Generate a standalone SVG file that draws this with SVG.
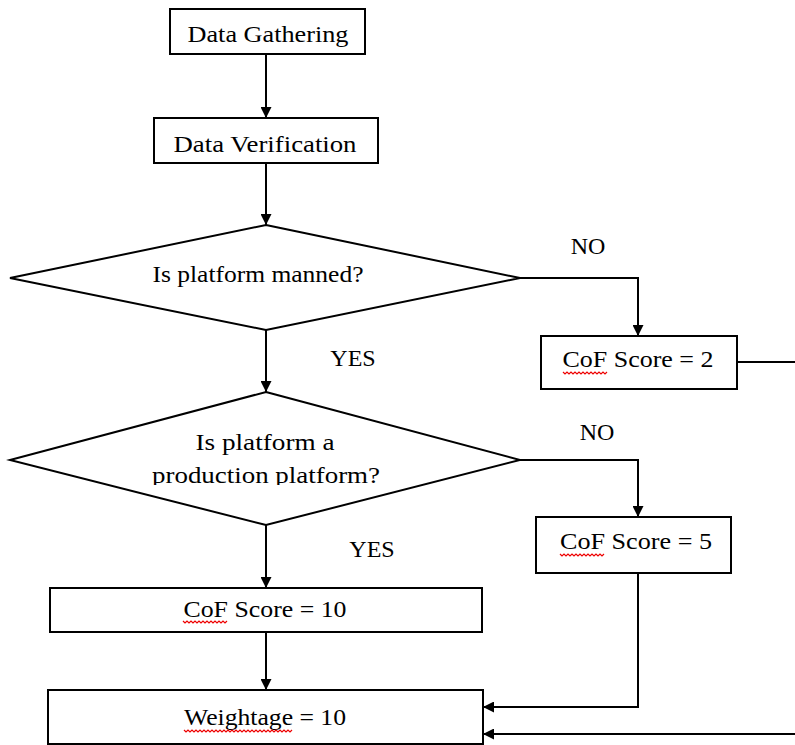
<svg xmlns="http://www.w3.org/2000/svg" width="795" height="745" viewBox="0 0 795 745">
<style>
.box{fill:#fff;stroke:#000;stroke-width:2}
.ln{fill:none;stroke:#000;stroke-width:2}
.t{font-family:"Liberation Serif","Times New Roman",serif;font-size:24px;fill:#000;text-anchor:middle}
.sq{fill:none;stroke:#e00;stroke-width:1.2}
</style>
<defs>
<marker id="ah" viewBox="0 0 10 10" refX="10" refY="5" markerWidth="11" markerHeight="11" markerUnits="userSpaceOnUse" orient="auto">
<path d="M0,0 L10,5 L0,10 z" fill="#000"/>
</marker>
<clipPath id="c2"><rect x="0" y="380" width="540" height="105"/></clipPath>
</defs>
<g id="connectors">
<path class="ln" d="M266,54 V118" marker-end="url(#ah)"/>
<path class="ln" d="M266,163 V225" marker-end="url(#ah)"/>
<path class="ln" d="M520,278 H638 V336" marker-end="url(#ah)"/>
<path class="ln" d="M737,362 H795"/>
<path class="ln" d="M266,330 V392" marker-end="url(#ah)"/>
<path class="ln" d="M520,460 H638 V517" marker-end="url(#ah)"/>
<path class="ln" d="M266,525 V588" marker-end="url(#ah)"/>
<path class="ln" d="M266,632 V690" marker-end="url(#ah)"/>
<path class="ln" d="M638,573 V707 H483" marker-end="url(#ah)"/>
<path class="ln" d="M795,734 H483" marker-end="url(#ah)"/>
<text class="t" x="588" y="254">NO</text>
<text class="t" x="353" y="366">YES</text>
<text class="t" x="597" y="440">NO</text>
<text class="t" x="372" y="557">YES</text>
</g>
<g id="data-gathering">
<rect class="box" x="170" y="9" width="195" height="45"/>
<text class="t" x="268" y="42" textLength="161" lengthAdjust="spacingAndGlyphs">Data Gathering</text>
</g>
<g id="data-verification">
<rect class="box" x="154" y="118" width="224" height="45"/>
<text class="t" x="265" y="152" textLength="183" lengthAdjust="spacingAndGlyphs">Data Verification</text>
</g>
<g id="decision-manned">
<polygon class="box" points="266,225 520,278 266,330 10,278"/>
<text class="t" x="258" y="282" textLength="211" lengthAdjust="spacingAndGlyphs">Is platform manned?</text>
</g>
<g id="cof-2">
<rect class="box" x="541" y="336" width="196" height="53"/>
<text class="t" x="638" y="367" textLength="151" lengthAdjust="spacingAndGlyphs">CoF Score = 2</text>
<polyline class="sq" points="563,372 565,374 567,372 569,374 571,372 573,374 575,372 577,374 579,372 581,374 583,372 585,374 587,372 589,374 591,372 593,374 595,372 597,374 599,372 601,374 603,372 605,374 607,372"/>
</g>
<g id="decision-production">
<polygon class="box" points="266,392 520,460 266,525 10,460"/>
<g clip-path="url(#c2)">
<text class="t" x="265" y="450" textLength="139" lengthAdjust="spacingAndGlyphs">Is platform a</text>
<text class="t" x="266" y="483" textLength="228" lengthAdjust="spacingAndGlyphs">production platform?</text>
</g>
</g>
<g id="cof-5">
<rect class="box" x="536" y="517" width="195" height="56"/>
<text class="t" x="636" y="549" textLength="152" lengthAdjust="spacingAndGlyphs">CoF Score = 5</text>
<polyline class="sq" points="560,554 562,556 564,554 566,556 568,554 570,556 572,554 574,556 576,554 578,556 580,554 582,556 584,554 586,556 588,554 590,556 592,554 594,556 596,554 598,556 600,554 602,556 604,554"/>
</g>
<g id="cof-10">
<rect class="box" x="50" y="588" width="432" height="44"/>
<text class="t" x="265" y="617" textLength="163" lengthAdjust="spacingAndGlyphs">CoF Score = 10</text>
<polyline class="sq" points="183,621 185,623 187,621 189,623 191,621 193,623 195,621 197,623 199,621 201,623 203,621 205,623 207,621 209,623 211,621 213,623 215,621 217,623 219,621 221,623 223,621 225,623 227,621"/>
</g>
<g id="weightage">
<rect class="box" x="48" y="690" width="435" height="54"/>
<text class="t" x="265" y="725" textLength="162" lengthAdjust="spacingAndGlyphs">Weightage = 10</text>
<polyline class="sq" points="184,730 186,732 188,730 190,732 192,730 194,732 196,730 198,732 200,730 202,732 204,730 206,732 208,730 210,732 212,730 214,732 216,730 218,732 220,730 222,732 224,730 226,732 228,730 230,732 232,730 234,732 236,730 238,732 240,730 242,732 244,730 246,732 248,730 250,732 252,730 254,732 256,730 258,732 260,730 262,732 264,730 266,732 268,730 270,732 272,730 274,732 276,730 278,732 280,730 282,732 284,730 286,732 288,730 290,732 292,730"/>
</g>
</svg>
